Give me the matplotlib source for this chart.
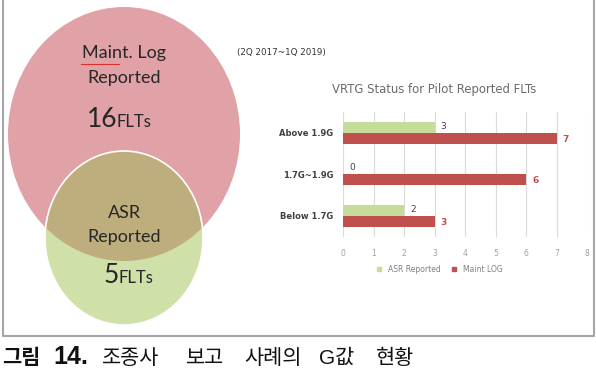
import matplotlib.pyplot as plt
from matplotlib.patches import Ellipse
from matplotlib.lines import Line2D

# data
categories = ['Above 1.9G', '1.7G~1.9G', 'Below 1.7G']
asr_reported = [3, 0, 2]
maint_log = [7, 6, 3]
series_names = ['ASR Reported', 'Maint LOG']
venn_counts = [16, 5]
period = '(2Q 2017~1Q 2019)'
chart_title = 'VRTG Status for Pilot Reported FLTs'
caption_words = ['그림', '14.', '조종사', '보고', '사례의', 'G값', '현황']
caption_x = [2, 53, 102, 186, 244, 319, 376]

W, H = 596, 372
green = '#c6dc9a'
red = '#c0504d'
pink = '#e0a2a6'
light_green = '#cfe0a9'
tan = '#bfae7d'
ink = '#262626'

fig = plt.figure(figsize=(W / 100, H / 100), dpi=100)

# background canvas in pixel coordinates
bg = fig.add_axes([0, 0, 1, 1])
bg.set_xlim(0, W)
bg.set_ylim(H, 0)
bg.axis('off')

# frame around picture
bg.plot([2.5, 2.5, 593.5, 593.5], [0, 336, 336, 0], color='#a6a6a6', lw=1.5)

# venn diagram
big = Ellipse((124, 134), 232, 254, facecolor=pink, edgecolor='none', zorder=1)
bg.add_patch(big)
small = Ellipse((124, 238), 158, 174, facecolor=light_green, edgecolor='none', zorder=2)
bg.add_patch(small)
overlap = Ellipse((124, 238), 158, 174, facecolor=tan, edgecolor='none', zorder=3)
bg.add_patch(overlap)
overlap.set_clip_path(big)
bg.add_patch(Ellipse((124, 238), 158, 174, facecolor='none', edgecolor='white', lw=1.2, zorder=4))

txt = dict(ha='center', va='center', color=ink, family='Lato', zorder=5)
bg.text(124, 53, 'Maint. Log', fontsize=13, **txt)
bg.plot([81, 119], [64, 64], color='#d83030', lw=0.8, zorder=5)
bg.text(124, 78, 'Reported', fontsize=13, **txt)
bg.text(124, 213, 'ASR', fontsize=13, **txt)
bg.text(124, 237, 'Reported', fontsize=13, **txt)
for n, xs, yb in zip(venn_counts, [117, 119], [127, 283]):
    bg.text(xs, yb, str(n), fontsize=19, ha='right', va='baseline', color=ink, family='Lato', zorder=5)
    bg.text(xs, yb, 'FLTs', fontsize=12, ha='left', va='baseline', color=ink, family='Lato', zorder=5)

bg.text(237, 53, period, fontsize=6.3, ha='left', va='center', color='#333333')
bg.text(434, 90, chart_title, fontsize=8.4, ha='center', va='center', color='#6b6b6b')

# caption
cap_font = ['Liberation Sans', 'Noto Sans CJK KR']
for i, (w, x) in enumerate(zip(caption_words, caption_x)):
    size = 18 if w[0].isdigit() else 15
    bg.text(x, 364, w, fontsize=size, fontweight='bold' if i < 2 else 'normal', ha='left', va='baseline',
            family=cap_font, color='#111111')

# bar chart
ax = fig.add_axes([343 / W, 1 - 236.5 / H, (587 - 343) / W, (236.5 - 112) / H])
ax.set_facecolor('none')
h = 0.265
pos = list(range(len(categories)))
ax.barh([p - h / 2 for p in pos], asr_reported, height=h, color=green, zorder=3)
ax.barh([p + h / 2 for p in pos], maint_log, height=h, color=red, zorder=3)
for p, a, m in zip(pos, asr_reported, maint_log):
    ax.text(a + 0.2, p - h / 2 - 0.03, str(a), fontsize=6.5, color='#404040', ha='left', va='center')
    ax.text(m + 0.2, p + h / 2 + 0.03, str(m), fontsize=6.5, color=red, fontweight='bold', ha='left', va='center')
ax.set_xlim(0, 8)
ax.set_ylim(2.5, -0.5)
ax.set_xticks(range(9))
ax.set_yticks(pos)
ax.set_yticklabels(categories, fontsize=6, color='#404040', fontweight='bold')
ax.tick_params(axis='x', length=0, labelsize=5.5, labelcolor='#a0a0a0', pad=9)
ax.tick_params(axis='y', length=0, pad=7)
ax.grid(axis='x', color='#dadada', lw=0.8, zorder=0)
for s in ax.spines.values():
    s.set_visible(False)

handles = [Line2D([], [], marker='s', ls='none', color=green, markersize=3.5),
           Line2D([], [], marker='s', ls='none', color=red, markersize=3.5)]
fig.legend(handles, series_names, loc='center', bbox_to_anchor=(437 / W, 1 - 269 / H), ncol=2,
           frameon=False, fontsize=5.5, labelcolor='#808080', handletextpad=0.1, columnspacing=0.8)

fig.savefig('out.png', dpi=100)
